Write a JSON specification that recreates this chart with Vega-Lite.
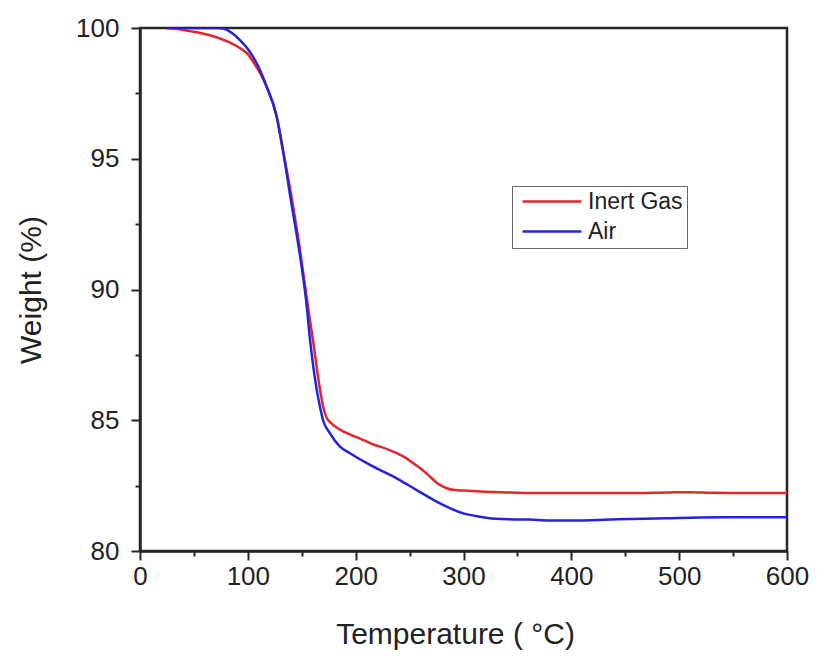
{
  "$schema": "https://vega.github.io/schema/vega-lite/v6.json",
  "width": 647,
  "height": 523,
  "autosize": {"type": "none"},
  "padding": {"left": 140, "top": 28, "right": 30, "bottom": 109},
  "background": "white",
  "config": {
    "view": {"stroke": "#262626", "strokeWidth": 2.5},
    "font": "Liberation Sans",
    "axis": {
      "domainColor": "#262626",
      "domainWidth": 2.5,
      "tickColor": "#262626",
      "tickWidth": 2,
      "grid": false,
      "labelColor": "#222",
      "titleColor": "#222",
      "labelFont": "Liberation Sans",
      "titleFont": "Liberation Sans",
      "titleFontWeight": "normal"
    }
  },
  "data": {
    "values": [
      {"series": "Inert Gas", "temp": 25, "weight": 100},
      {"series": "Inert Gas", "temp": 35, "weight": 99.96},
      {"series": "Inert Gas", "temp": 46, "weight": 99.88},
      {"series": "Inert Gas", "temp": 55, "weight": 99.82},
      {"series": "Inert Gas", "temp": 65, "weight": 99.72},
      {"series": "Inert Gas", "temp": 74, "weight": 99.6},
      {"series": "Inert Gas", "temp": 83, "weight": 99.45},
      {"series": "Inert Gas", "temp": 93, "weight": 99.22},
      {"series": "Inert Gas", "temp": 100, "weight": 99.0},
      {"series": "Inert Gas", "temp": 105, "weight": 98.7},
      {"series": "Inert Gas", "temp": 111, "weight": 98.3},
      {"series": "Inert Gas", "temp": 117.5, "weight": 97.74},
      {"series": "Inert Gas", "temp": 126.8, "weight": 96.6},
      {"series": "Inert Gas", "temp": 132.6, "weight": 95.33},
      {"series": "Inert Gas", "temp": 141, "weight": 93.42},
      {"series": "Inert Gas", "temp": 148.4, "weight": 91.51},
      {"series": "Inert Gas", "temp": 154.9, "weight": 89.6},
      {"series": "Inert Gas", "temp": 160.4, "weight": 88.07},
      {"series": "Inert Gas", "temp": 167, "weight": 86.16},
      {"series": "Inert Gas", "temp": 170, "weight": 85.5},
      {"series": "Inert Gas", "temp": 173, "weight": 85.1},
      {"series": "Inert Gas", "temp": 177, "weight": 84.9},
      {"series": "Inert Gas", "temp": 185, "weight": 84.65},
      {"series": "Inert Gas", "temp": 195, "weight": 84.45},
      {"series": "Inert Gas", "temp": 204, "weight": 84.3},
      {"series": "Inert Gas", "temp": 215, "weight": 84.1},
      {"series": "Inert Gas", "temp": 232, "weight": 83.85},
      {"series": "Inert Gas", "temp": 245, "weight": 83.6},
      {"series": "Inert Gas", "temp": 253, "weight": 83.37},
      {"series": "Inert Gas", "temp": 262, "weight": 83.1},
      {"series": "Inert Gas", "temp": 269, "weight": 82.84},
      {"series": "Inert Gas", "temp": 277, "weight": 82.55},
      {"series": "Inert Gas", "temp": 284.4, "weight": 82.4},
      {"series": "Inert Gas", "temp": 292, "weight": 82.33},
      {"series": "Inert Gas", "temp": 300, "weight": 82.31},
      {"series": "Inert Gas", "temp": 320, "weight": 82.27},
      {"series": "Inert Gas", "temp": 340, "weight": 82.24},
      {"series": "Inert Gas", "temp": 362, "weight": 82.22},
      {"series": "Inert Gas", "temp": 400, "weight": 82.22},
      {"series": "Inert Gas", "temp": 450, "weight": 82.22},
      {"series": "Inert Gas", "temp": 490, "weight": 82.24},
      {"series": "Inert Gas", "temp": 510, "weight": 82.25},
      {"series": "Inert Gas", "temp": 530, "weight": 82.23},
      {"series": "Inert Gas", "temp": 560, "weight": 82.22},
      {"series": "Inert Gas", "temp": 600, "weight": 82.22},
      {"series": "Air", "temp": 25, "weight": 100},
      {"series": "Air", "temp": 50, "weight": 100},
      {"series": "Air", "temp": 72, "weight": 100},
      {"series": "Air", "temp": 77, "weight": 99.98},
      {"series": "Air", "temp": 85, "weight": 99.82},
      {"series": "Air", "temp": 92.7, "weight": 99.54},
      {"series": "Air", "temp": 100, "weight": 99.2},
      {"series": "Air", "temp": 108.2, "weight": 98.65},
      {"series": "Air", "temp": 117.5, "weight": 97.76},
      {"series": "Air", "temp": 126.8, "weight": 96.61},
      {"series": "Air", "temp": 132.4, "weight": 95.35},
      {"series": "Air", "temp": 140, "weight": 93.4},
      {"series": "Air", "temp": 147.6, "weight": 91.5},
      {"series": "Air", "temp": 154, "weight": 89.6},
      {"series": "Air", "temp": 157.7, "weight": 88.07},
      {"series": "Air", "temp": 163.9, "weight": 86.16},
      {"series": "Air", "temp": 167, "weight": 85.5},
      {"series": "Air", "temp": 169.7, "weight": 85.01},
      {"series": "Air", "temp": 176.2, "weight": 84.5},
      {"series": "Air", "temp": 185.5, "weight": 83.99},
      {"series": "Air", "temp": 194.7, "weight": 83.74},
      {"series": "Air", "temp": 213.3, "weight": 83.29},
      {"series": "Air", "temp": 238, "weight": 82.78},
      {"series": "Air", "temp": 256.6, "weight": 82.33},
      {"series": "Air", "temp": 278.2, "weight": 81.82},
      {"series": "Air", "temp": 299.8, "weight": 81.44},
      {"series": "Air", "temp": 315.3, "weight": 81.31},
      {"series": "Air", "temp": 334, "weight": 81.22},
      {"series": "Air", "temp": 361.7, "weight": 81.2},
      {"series": "Air", "temp": 380, "weight": 81.17},
      {"series": "Air", "temp": 411, "weight": 81.17},
      {"series": "Air", "temp": 442, "weight": 81.21},
      {"series": "Air", "temp": 488, "weight": 81.25},
      {"series": "Air", "temp": 519, "weight": 81.28},
      {"series": "Air", "temp": 560, "weight": 81.29},
      {"series": "Air", "temp": 600, "weight": 81.29}
    ]
  },
  "mark": {"type": "line", "strokeWidth": 2.5, "interpolate": "monotone", "clip": true},
  "encoding": {
    "x": {
      "field": "temp",
      "type": "quantitative",
      "scale": {"domain": [0, 600], "nice": false, "zero": false},
      "axis": {
        "title": "Temperature ( °C)",
        "values": [0, 50, 100, 150, 200, 250, 300, 350, 400, 450, 500, 550, 600],
        "labelExpr": "datum.value % 100 === 0 ? datum.label : ''",
        "tickSize": {"condition": {"test": "datum.value % 100 === 0", "value": 9}, "value": 5},
        "labelFontSize": 26,
        "labelPadding": 3,
        "titleFontSize": 30,
        "titlePadding": 30,
        "titleX": 315,
        "titleAlign": "center",
        "labelFlush": false,
        "labelOverlap": false
      }
    },
    "y": {
      "field": "weight",
      "type": "quantitative",
      "scale": {"domain": [80, 100], "nice": false, "zero": false},
      "axis": {
        "title": "Weight (%)",
        "values": [80, 82.5, 85, 87.5, 90, 92.5, 95, 97.5, 100],
        "labelExpr": "datum.value % 5 === 0 ? datum.label : ''",
        "tickSize": {"condition": {"test": "datum.value % 5 === 0", "value": 9}, "value": 5},
        "labelFontSize": 26,
        "labelPadding": 12,
        "titleFontSize": 30,
        "titlePadding": 29,
        "labelFlush": false,
        "labelOverlap": false
      }
    },
    "color": {
      "field": "series",
      "type": "nominal",
      "sort": ["Inert Gas", "Air"],
      "scale": {"domain": ["Inert Gas", "Air"], "range": ["#e3262c", "#2323dc"]},
      "legend": {
        "title": null,
        "orient": "none",
        "legendX": 372,
        "legendY": 158,
        "symbolType": "M-0.5,0H5.4",
        "symbolSize": 400,
        "symbolStrokeWidth": 2.5,
        "labelFontSize": 23,
        "labelColor": "#222",
        "labelFont": "Liberation Sans",
        "strokeColor": "#666",
        "fillColor": "white",
        "padding": 4,
        "rowPadding": 6,
        "labelOffset": 49
      }
    }
  }
}
